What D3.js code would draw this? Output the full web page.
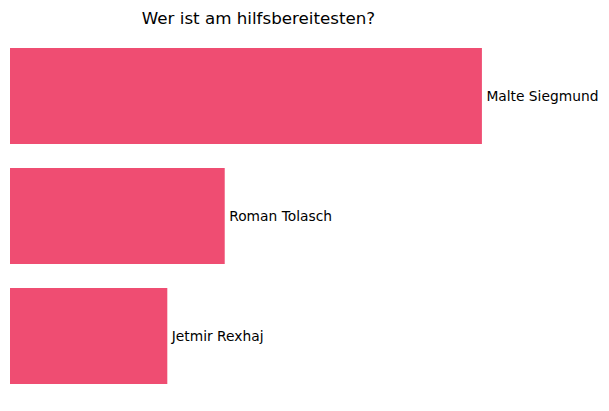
<!DOCTYPE html>
<html><head><meta charset="utf-8">
<script src="https://cdn.jsdelivr.net/npm/d3@7"></script>
<style>body{margin:0;background:#fff;}svg{display:block;}</style>
</head><body>
<script>
const title = "Wer ist am hilfsbereitesten?";
const names = ["Malte Siegmund", "Roman Tolasch", "Jetmir Rexhaj"];
const values = [60, 27.3, 20];

(function () {
const W = 609, H = 411;
const mLeft = 10, mRight = 505.5, mTop = 31.2, mBottom = 400.8;
const svg = d3.select("body").append("svg").attr("width", W).attr("height", H);

const maxV = d3.max(values);
const x = d3.scaleLinear().domain([0, maxV * 1.05]).range([mLeft, mRight]);
const y = d3.scaleLinear().domain([-0.54, 2.54]).range([mTop, mBottom]);
const bh = 0.8;

svg.selectAll("rect.bar").data(values).enter().append("rect")
  .attr("class", "bar")
  .attr("x", x(0))
  .attr("y", (d, i) => y(i - bh / 2))
  .attr("width", d => x(d) - x(0))
  .attr("height", y(bh) - y(0))
  .attr("fill", "#ef4d72");

svg.selectAll("text.lbl").data(values).enter().append("text")
  .attr("class", "lbl")
  .attr("x", d => x(d) + 4.5)
  .attr("y", (d, i) => y(i))
  .attr("dy", "0.35em")
  .attr("font-family", "DejaVu Sans")
  .attr("font-size", "13.8px")
  .attr("fill", "#000")
  .text((d, i) => names[i]);

svg.append("text")
  .attr("x", 258.5)
  .attr("y", 24)
  .attr("text-anchor", "middle")
  .attr("font-family", "DejaVu Sans")
  .attr("font-size", "16.7px")
  .attr("fill", "#000")
  .text(title);
})();
</script>
</body></html>
